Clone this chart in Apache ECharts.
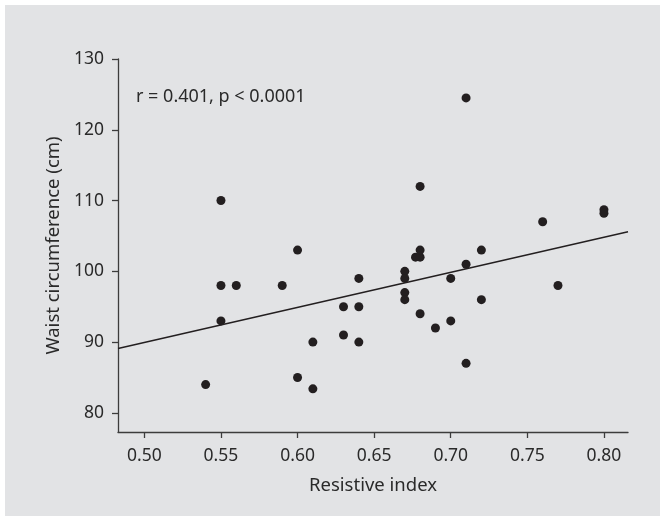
<!DOCTYPE html>
<html>
<head>
<meta charset="utf-8">
<script src="https://cdn.jsdelivr.net/npm/echarts@6/dist/echarts.min.js"></script>
<style>
  html, body { margin: 0; padding: 0; background: #ffffff; }
  #chart { width: 660px; height: 517px; }
</style>
</head>
<body>
<div id="chart"></div>
<script>
// 散点数据: [阻力指数, 腰围]
var points = [
  [0.54, 84], [0.55, 110], [0.55, 98], [0.55, 93], [0.56, 98], [0.59, 98],
  [0.60, 103], [0.60, 85], [0.61, 90], [0.61, 83.4], [0.63, 95], [0.63, 91],
  [0.64, 99], [0.64, 95], [0.64, 90], [0.67, 100], [0.67, 99], [0.67, 97],
  [0.67, 96], [0.677, 102], [0.68, 102], [0.68, 103], [0.68, 112], [0.68, 94],
  [0.69, 92], [0.70, 99], [0.70, 93], [0.71, 124.5], [0.71, 101], [0.71, 87],
  [0.72, 103], [0.72, 96], [0.76, 107], [0.77, 98], [0.80, 108.7], [0.80, 108.2]
];
// 回归线两端
var fitLine = [[0.4828, 89.1], [0.8157, 105.6]];
var xTicks = [0.50, 0.55, 0.60, 0.65, 0.70, 0.75, 0.80];
var yTicks = [80, 90, 100, 110, 120, 130];
var noteText = 'r = 0.401, p < 0.0001';

var fontFamily = 'Noto Sans';
var ink = '#231f20';
var axisColor = '#3c3c3c';

var chart = echarts.init(document.getElementById('chart'));
var option = {
  backgroundColor: '#ffffff',
  animation: false,
  graphic: [
    {
      type: 'rect',
      z: -10,
      shape: { x: 5, y: 5, width: 660, height: 511 },
      style: { fill: '#e2e3e5' }
    },
    {
      type: 'text',
      left: 136,
      top: 88,
      style: { text: noteText, font: '18px "Noto Sans"', fill: '#2a2a2a' }
    }
  ],
  grid: {
    left: 118,
    right: 32,
    top: 59,
    bottom: 85
  },
  xAxis: {
    type: 'value',
    min: 0.4828,
    max: 0.8157,
    name: 'Resistive index',
    nameLocation: 'middle',
    nameGap: 44,
    nameTextStyle: { color: '#2a2a2a', fontSize: 18.5, fontFamily: fontFamily },
    axisLine: { show: true, lineStyle: { color: axisColor, width: 1.3 } },
    axisTick: { show: true, length: 6, customValues: xTicks, lineStyle: { color: axisColor, width: 1.3 } },
    axisLabel: {
      customValues: xTicks,
      margin: 15,
      color: '#2a2a2a',
      fontSize: 17.5,
      fontFamily: fontFamily,
      formatter: function (v) { return v.toFixed(2); }
    },
    splitLine: { show: false }
  },
  yAxis: {
    type: 'value',
    min: 77.3,
    max: 130,
    name: 'Waist circumference (cm)',
    nameLocation: 'middle',
    nameGap: 55,
    nameTextStyle: { color: '#2a2a2a', fontSize: 18.5, fontFamily: fontFamily },
    axisLine: { show: true, lineStyle: { color: axisColor, width: 1.3 } },
    axisTick: { show: true, length: 6, customValues: yTicks, lineStyle: { color: axisColor, width: 1.3 } },
    axisLabel: {
      customValues: yTicks,
      margin: 14,
      color: '#2a2a2a',
      fontSize: 17.5,
      fontFamily: fontFamily
    },
    splitLine: { show: false }
  },
  series: [
    {
      type: 'line',
      data: fitLine,
      symbol: 'none',
      silent: true,
      lineStyle: { color: ink, width: 1.4 }
    },
    {
      type: 'scatter',
      data: points,
      symbol: 'circle',
      symbolSize: 9,
      itemStyle: { color: ink, opacity: 1 }
    }
  ]
};
chart.setOption(option);
</script>
</body>
</html>
